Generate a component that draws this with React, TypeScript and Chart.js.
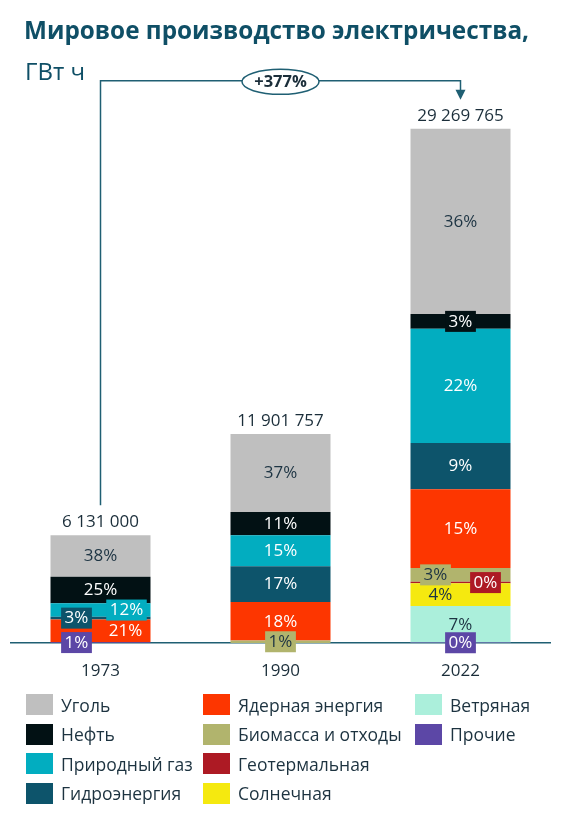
import React, { useEffect, useRef } from 'react';
import { Chart, registerables } from 'chart.js';

Chart.register(...registerables);

// ---- data ----
const years = ['1973', '1990', '2022'];
const totals = [6131000, 11901757, 29269765]; // GWh

// shares of total production, % (legend order)
const coalShare = [38.4, 37.3, 36.0];
const oilShare = [24.8, 11.2, 2.9];
const gasShare = [12.4, 14.8, 22.2];
const hydroShare = [2.6, 17.1, 9.0];
const nuclearShare = [21.0, 18.4, 15.3];
const biomassShare = [0, 1.2, 2.7];
const geothermalShare = [0, 0, 0.3];
const solarShare = [0, 0, 4.4];
const windShare = [0, 0, 7.1];
const otherShare = [0.8, 0, 0.1];

const sourceNames = [
  'Уголь',
  'Нефть',
  'Природный газ',
  'Гидроэнергия',
  'Ядерная энергия',
  'Биомасса и отходы',
  'Геотермальная',
  'Солнечная',
  'Ветряная',
  'Прочие',
];
const sourceShares = [
  coalShare,
  oilShare,
  gasShare,
  hydroShare,
  nuclearShare,
  biomassShare,
  geothermalShare,
  solarShare,
  windShare,
  otherShare,
];

// ---- styles ----
const sourceColors = [
  '#bfbfbf',
  '#021114',
  '#02adc0',
  '#0d546b',
  '#fd3600',
  '#b1b46d',
  '#ad1a24',
  '#f5e90f',
  '#abefdb',
  '#5c47a6',
];
const darkLabelSources = new Set(['Уголь', 'Биомасса и отходы', 'Солнечная', 'Ветряная']);
const labelShift: Record<string, number[]> = {
  'Гидроэнергия': [-24, 0, 0],
  'Прочие': [-24, 0, 0],
  'Природный газ': [26, 0, 0],
  'Ядерная энергия': [25, 0, 0],
  'Биомасса и отходы': [0, 0, -25],
  'Геотермальная': [0, 0, 25],
  'Солнечная': [0, 0, -20],
};
const FONT = "'Open Sans', sans-serif";
const TEXT_DARK = '#1b2e3a';
const TEAL = '#1f5f73';
const TITLE = '#0f4f66';

const fmt = (n: number) => String(n).replace(/\B(?=(\d{3})+(?!\d))/g, ' ');

const annotPlugin = {
  id: 'annot',
  afterDraw(chart: any) {
    const ctx = chart.ctx as CanvasRenderingContext2D;
    const xs = chart.scales.x;
    const ys = chart.scales.y;
    ctx.save();
    // segment labels
    ctx.font = `17px ${FONT}`;
    ctx.textAlign = 'center';
    ctx.textBaseline = 'middle';
    chart.data.datasets.forEach((ds: any, di: number) => {
      const meta = chart.getDatasetMeta(di);
      meta.data.forEach((bar: any, i: number) => {
        const share = ds.shares[i];
        if (!share) return;
        const { x, y, base } = bar.getProps(['x', 'y', 'base'], true);
        const h = Math.abs(base - y);
        const cy = (y + base) / 2;
        const cx = x + ((labelShift[ds.label] || [])[i] || 0);
        const text = `${Math.round(share)}%`;
        if (h < 20) {
          const w = ctx.measureText(text).width + 7;
          ctx.fillStyle = ds.backgroundColor;
          ctx.fillRect(cx - w / 2, cy - 10.5, w, 21);
        }
        ctx.fillStyle = darkLabelSources.has(ds.label) ? '#1d3443' : '#ffffff';
        ctx.fillText(text, cx, cy + 0.5);
      });
    });
    // totals
    ctx.fillStyle = TEXT_DARK;
    ctx.textBaseline = 'alphabetic';
    totals.forEach((t, i) => {
      ctx.fillText(fmt(t), xs.getPixelForValue(i), ys.getPixelForValue(t) - 8);
    });
    // growth connector
    const x0 = xs.getPixelForValue(0);
    const xm = xs.getPixelForValue(1);
    const x2 = xs.getPixelForValue(totals.length - 1);
    const start = ys.getPixelForValue(totals[0]) - 8 - 13 - 9;
    const tip = ys.getPixelForValue(totals[totals.length - 1]) - 8 - 13 - 8;
    const lineY = tip - 19;
    ctx.strokeStyle = TEAL;
    ctx.lineWidth = 1.5;
    ctx.beginPath();
    ctx.moveTo(x0, start);
    ctx.lineTo(x0, lineY);
    ctx.lineTo(x2, lineY);
    ctx.lineTo(x2, tip - 9);
    ctx.stroke();
    ctx.fillStyle = TEAL;
    ctx.beginPath();
    ctx.moveTo(x2 - 5, tip - 10);
    ctx.lineTo(x2 + 5, tip - 10);
    ctx.lineTo(x2, tip);
    ctx.closePath();
    ctx.fill();
    ctx.beginPath();
    ctx.ellipse(xm, lineY + 1, 38.5, 12.5, 0, 0, Math.PI * 2);
    ctx.fillStyle = '#ffffff';
    ctx.fill();
    ctx.stroke();
    const growth = Math.round((totals[totals.length - 1] / totals[0] - 1) * 100);
    ctx.font = `bold 16.5px ${FONT}`;
    ctx.fillStyle = TEXT_DARK;
    ctx.textBaseline = 'middle';
    ctx.fillText(`+${growth}%`, xm, lineY + 1.5);
    ctx.restore();
  },
};

export default function App() {
  const canvasRef = useRef<HTMLCanvasElement>(null);

  useEffect(() => {
    const canvas = canvasRef.current;
    if (!canvas) return;
    const datasets = sourceNames
      .map((name, k) => ({
        label: name,
        data: totals.map((t, i) => (t * sourceShares[k][i]) / 100),
        shares: sourceShares[k],
        backgroundColor: sourceColors[k],
        borderWidth: 0,
        categoryPercentage: 1,
        barPercentage: 100 / 180,
      }))
      .reverse();
    const chart = new Chart(canvas, {
      type: 'bar',
      data: { labels: years, datasets: datasets as any },
      options: {
        animation: false,
        responsive: false,
        layout: { padding: { left: 10.5, right: 10.5, top: 116, bottom: 0 } },
        plugins: {
          legend: { display: false },
          tooltip: { enabled: false },
          title: { display: false },
        },
        scales: {
          x: {
            stacked: true,
            grid: { display: false, drawTicks: false, tickLength: 0 },
            border: { display: true, color: TEAL, width: 1.5 },
            ticks: { font: { family: FONT, size: 17 }, color: TEXT_DARK, padding: 18 },
            afterFit: (scale: any) => {
              scale.height = 178;
            },
          },
          y: {
            stacked: true,
            display: false,
            min: 0,
            max: 30000000,
          },
        },
      },
      plugins: [annotPlugin],
    });
    return () => chart.destroy();
  }, []);

  const colX = [26, 203, 415];
  const rowTop = [694, 723.5, 753, 782.5];

  return (
    <div
      style={{
        position: 'fixed',
        left: 0,
        top: 0,
        width: 561,
        height: 821,
        background: '#ffffff',
        overflow: 'hidden',
      }}
    >
      <canvas
        ref={canvasRef}
        width={561}
        height={821}
        style={{ position: 'absolute', left: 0, top: 0 }}
      />
      <div
        style={{
          position: 'absolute',
          left: 24,
          top: 18,
          font: `bold 24.3px ${FONT}`,
          lineHeight: '24px',
          color: TITLE,
          whiteSpace: 'nowrap',
        }}
      >
        Мировое производство электричества,
      </div>
      <div
        style={{
          position: 'absolute',
          left: 25,
          top: 59,
          font: `24px ${FONT}`,
          lineHeight: '24px',
          color: TITLE,
          whiteSpace: 'nowrap',
        }}
      >
        ГВт ч
      </div>
      {sourceNames.map((name, i) => (
        <div
          key={name}
          style={{
            position: 'absolute',
            left: colX[Math.floor(i / 4)],
            top: rowTop[i % 4],
            height: 21,
            display: 'flex',
            alignItems: 'center',
            whiteSpace: 'nowrap',
          }}
        >
          <div style={{ width: 27, height: 21, background: sourceColors[i], flex: 'none' }} />
          <span
            style={{
              marginLeft: 8,
              font: `17.5px ${FONT}`,
              color: '#1d3340',
            }}
          >
            {name}
          </span>
        </div>
      ))}
    </div>
  );
}
